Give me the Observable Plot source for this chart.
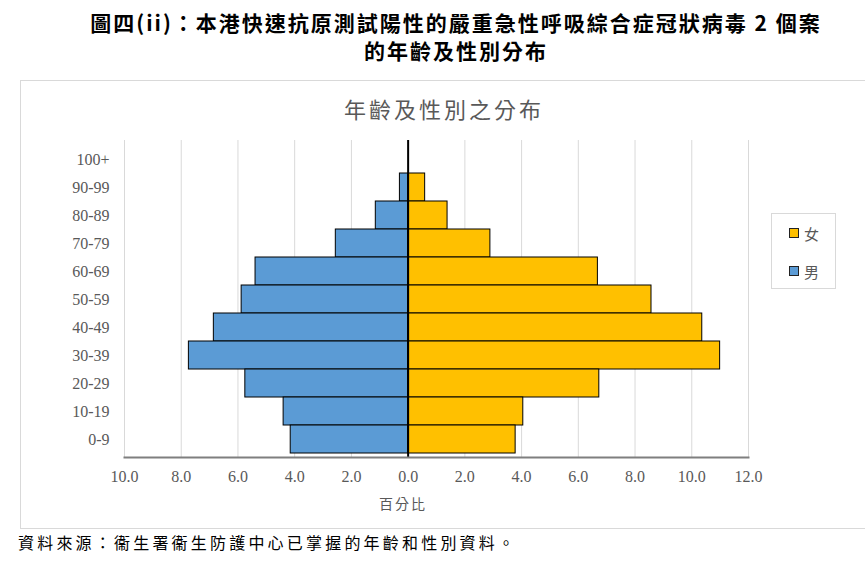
<!DOCTYPE html>
<html>
<head>
<meta charset="utf-8">
<script src="https://cdn.jsdelivr.net/npm/d3@7"></script>
<script src="https://cdn.jsdelivr.net/npm/@observablehq/plot@0.6"></script>
<style>
  body { margin: 0; background: #fff; }
  #wrap { position: relative; width: 865px; height: 568px; overflow: hidden; background: #fff; }
  .abs { position: absolute; }
  #title { left: 0; width: 912px; top: 8px; text-align: center; font-family: "Noto Sans CJK TC", sans-serif; font-weight: 700; font-size: 21px; line-height: 28px; letter-spacing: 2px; color: #000; }
  #box { left: 20px; top: 80px; width: 860px; height: 447px; border: 1px solid #d9d9d9; background: #fff; }
  #ctitle { left: 0; width: 888px; top: 93px; text-align: center; font-family: "Noto Sans CJK TC", sans-serif; font-weight: 400; font-size: 22px; line-height: 30px; letter-spacing: 3px; color: #595959; }
  #xlabel { left: 0; width: 806px; top: 494px; text-align: center; font-family: "Noto Sans CJK TC", sans-serif; font-size: 14px; line-height: 18px; letter-spacing: 2px; color: #595959; }
  #legend { left: 771px; top: 213px; width: 63px; height: 74px; border: 1px solid #d9d9d9; background: #fff; }
  .li { position: absolute; left: 17px; height: 20px; display: flex; align-items: center; font-family: "Noto Sans CJK TC", sans-serif; font-size: 15px; color: #595959; }
  .sw { width: 8px; height: 8px; border: 1px solid #222; margin-right: 5px; }
  #caption { left: 18px; top: 531px; font-family: "Noto Sans CJK TC", sans-serif; font-size: 16px; line-height: 22px; letter-spacing: 3.2px; color: #000; }
  #plot { left: 0; top: 0; }
</style>
</head>
<body>
<div id="wrap">
  <div id="title" class="abs">圖四(ii)：本港快速抗原測試陽性的嚴重急性呼吸綜合症冠狀病毒 2 個案<br>的年齡及性別分布</div>
  <div id="box" class="abs"></div>
  <div id="ctitle" class="abs">年齡及性別之分布</div>
  <div id="plot" class="abs"></div>
  <div id="xlabel" class="abs">百分比</div>
  <div id="legend" class="abs"></div>
  <div id="caption" class="abs">資料來源：衞生署衞生防護中心已掌握的年齡和性別資料。</div>
</div>
<script>
const ageGroups = ["100+","90-99","80-89","70-79","60-69","50-59","40-49","30-39","20-29","10-19","0-9"];
const maleValues = [0, 0.29, 1.14, 2.55, 5.38, 5.87, 6.85, 7.73, 5.74, 4.39, 4.14];
const femaleValues = [0, 0.6, 1.39, 2.9, 6.69, 8.58, 10.37, 11.0, 6.74, 4.06, 3.79];
const xTicks = [-10, -8, -6, -4, -2, 0, 2, 4, 6, 8, 10, 12];
const seriesNames = ["女", "男"];
const seriesColors = ["#FFC000", "#5B9BD5"];

const male = ageGroups.map((a, i) => ({age: a, v: maleValues[i]})).filter(d => d.v > 0);
const female = ageGroups.map((a, i) => ({age: a, v: femaleValues[i]})).filter(d => d.v > 0);

const chart = Plot.plot({
  width: 865,
  height: 568,
  marginLeft: 124,
  marginRight: 117,
  marginTop: 140,
  marginBottom: 111,
  style: {background: "transparent", fontFamily: "'Liberation Serif', serif", fontSize: "16px", color: "#595959", overflow: "visible"},
  x: {domain: [-10, 12]},
  y: {domain: ageGroups, padding: 0},
  marks: [
    Plot.gridX(xTicks, {stroke: "#d9d9d9", strokeOpacity: 1, strokeWidth: 1}),
    Plot.barX(male, {x1: 0, x2: d => -d.v, y: "age", fill: seriesColors[1], stroke: "#000", strokeWidth: 1}),
    Plot.barX(female, {x1: 0, x2: "v", y: "age", fill: seriesColors[0], stroke: "#000", strokeWidth: 1}),
    Plot.ruleX([0], {stroke: "#000", strokeWidth: 2}),
    Plot.frame({anchor: "bottom", stroke: "#7f7f7f", strokeWidth: 2}),
    Plot.axisX(xTicks, {tickSize: 0, tickPadding: 13, tickFormat: d => Math.abs(d).toFixed(1), label: null, fontSize: 16, fill: "#595959"}),
    Plot.axisY({tickSize: 0, tickPadding: 15, label: null, fontSize: 16, fill: "#595959"})
  ]
});
document.getElementById("plot").appendChild(chart);

const legend = document.getElementById("legend");
seriesNames.forEach((n, i) => {
  const li = document.createElement("div");
  li.className = "li";
  li.style.top = (9 + i * 38) + "px";
  const sw = document.createElement("div");
  sw.className = "sw";
  sw.style.background = seriesColors[i];
  const t = document.createElement("span");
  t.textContent = n;
  li.appendChild(sw);
  li.appendChild(t);
  legend.appendChild(li);
});
</script>
</body>
</html>
